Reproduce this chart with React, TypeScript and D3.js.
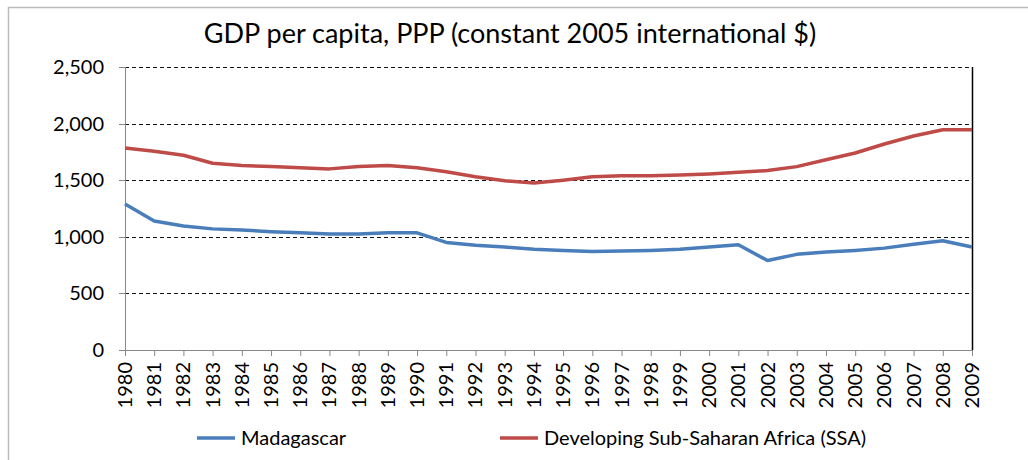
import React from "react";
import * as d3 from "d3";

const years = d3.range(1980, 2010).map(String);
const madagascar = [1290, 1140, 1095, 1070, 1060, 1045, 1035, 1025, 1025, 1035, 1035, 950, 925, 910, 890, 880, 870, 875, 880, 890, 910, 930, 790, 845, 865, 880, 900, 935, 965, 910];
const ssa = [1785, 1755, 1720, 1650, 1630, 1620, 1610, 1600, 1620, 1630, 1610, 1575, 1530, 1495, 1475, 1500, 1530, 1540, 1540, 1545, 1555, 1570, 1585, 1620, 1680, 1740, 1820, 1890, 1945, 1945];
const yTicks = [0, 500, 1000, 1500, 2000, 2500];
const seriesNames = ["Madagascar", "Developing Sub-Saharan Africa (SSA)"];
const colors = ["#4A7EBB", "#BE4B48"];

const W = 1028, H = 460;
const left = 125, right = 972, top = 67, bottom = 350;
const FONT = "Lato, 'Open Sans', sans-serif";

export default function App() {
  const x = d3.scalePoint<string>().domain(years).range([left, right]);
  const y = d3.scaleLinear().domain([0, 2500]).range([bottom, top]);
  const line = d3.line<number>().x((_, i) => x(years[i])!).y((d) => y(d));
  const fmt = d3.format(",");
  const series = [madagascar, ssa];
  const legendX = [197, 500];
  return (
    <svg width={W} height={H} style={{ position: "absolute", left: 0, top: 0, background: "#fff" }}>
      <rect x={8.5} y={7.5} width={W} height={H} fill="#fff" stroke="#bbb" strokeWidth={1.5} />
      <text x={510} y={43} textAnchor="middle" fontFamily={FONT} fontSize={27} fill="#000">
        GDP per capita, PPP (constant 2005 international $)
      </text>
      {yTicks.filter((t) => t > 0).map((t) => (
        <line key={t} x1={left} x2={right} y1={Math.round(y(t)) + 0.5} y2={Math.round(y(t)) + 0.5}
          stroke="#111" strokeWidth={1} strokeDasharray="4,3" />
      ))}
      <line x1={right + 0.5} x2={right + 0.5} y1={top} y2={bottom} stroke="#000" strokeWidth={1.5} />
      <line x1={left + 0.5} x2={left + 0.5} y1={top} y2={bottom} stroke="#888" strokeWidth={1} />
      <line x1={left} x2={right} y1={bottom + 0.5} y2={bottom + 0.5} stroke="#888" strokeWidth={1} />
      {yTicks.map((t) => (
        <g key={t}>
          <line x1={left - 6} x2={left} y1={Math.round(y(t)) + 0.5} y2={Math.round(y(t)) + 0.5} stroke="#888" />
          <text x={104} y={y(t) + 7} textAnchor="end" fontFamily={FONT} fontSize={20} fill="#000">{fmt(t)}</text>
        </g>
      ))}
      {years.map((yr) => (
        <g key={yr}>
          <line x1={x(yr)! + 0.5} x2={x(yr)! + 0.5} y1={bottom} y2={bottom + 6} stroke="#888" />
          <text transform={`translate(${x(yr)! + 7},${bottom + 12}) rotate(-90)`} textAnchor="end"
            fontFamily={FONT} fontSize={20} fill="#000">{yr}</text>
        </g>
      ))}
      {series.map((s, i) => (
        <path key={i} d={line(s)!} fill="none" stroke={colors[i]} strokeWidth={3.5} strokeLinejoin="round" />
      ))}
      {seriesNames.map((n, i) => (
        <g key={n}>
          <line x1={legendX[i]} x2={legendX[i] + 38} y1={438} y2={438} stroke={colors[i]} strokeWidth={3.5} />
          <text x={legendX[i] + 44} y={445} fontFamily={FONT} fontSize={20} fill="#000">{n}</text>
        </g>
      ))}
    </svg>
  );
}
